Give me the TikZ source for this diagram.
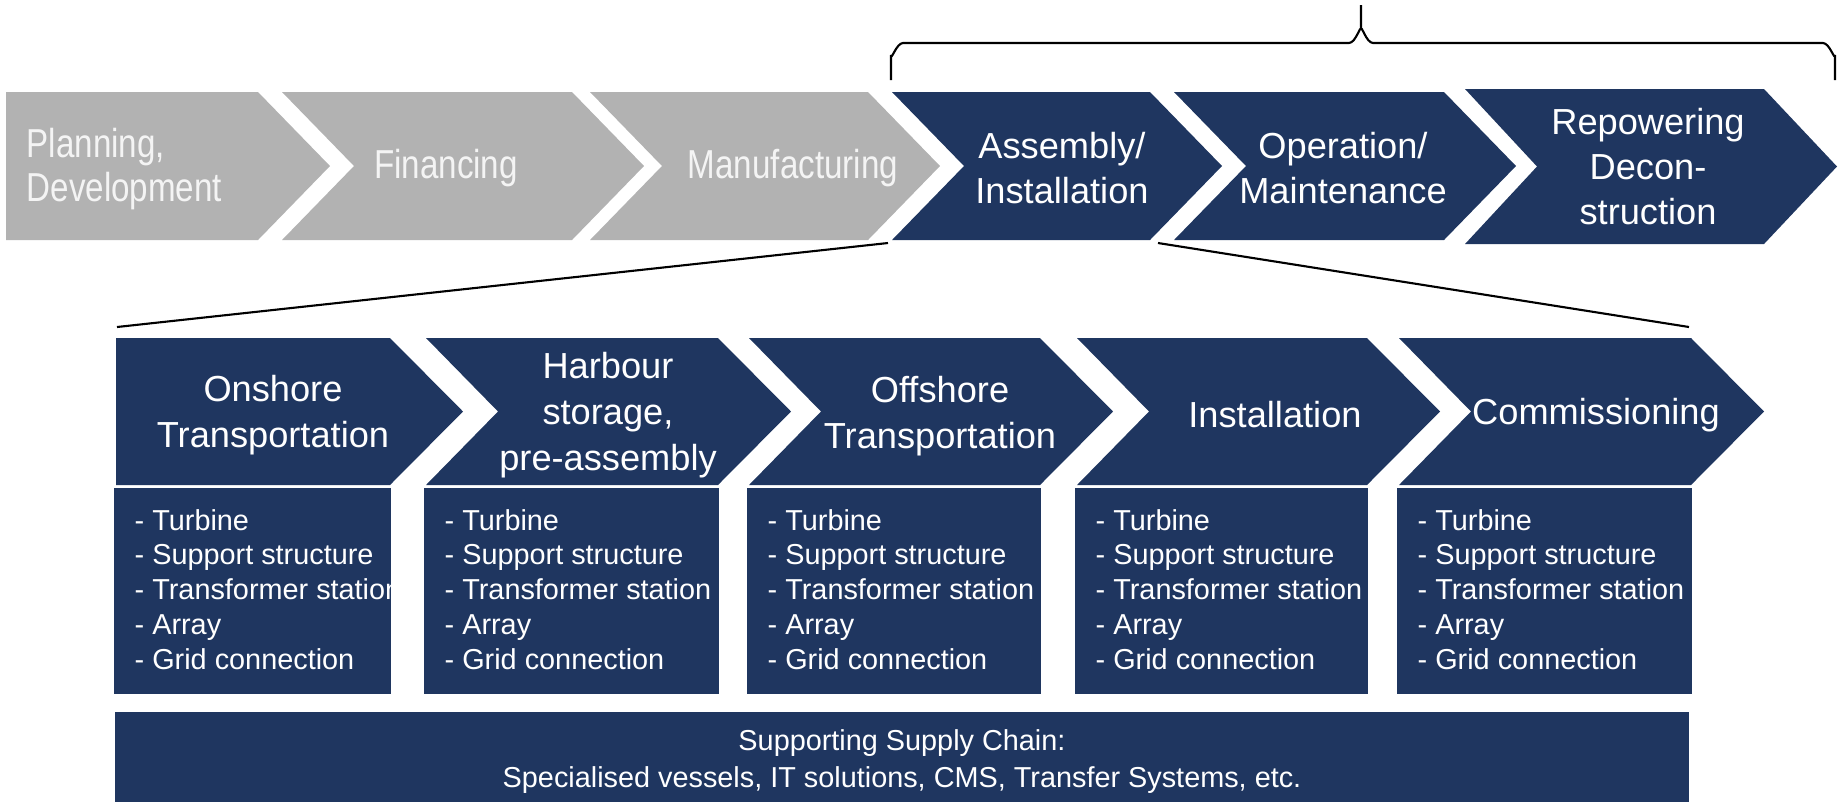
\documentclass[tikz,border=0pt]{standalone}
\usepackage{fontspec}
\setmainfont{Liberation Sans}
\newfontfamily\grayfont[FakeStretch=0.82]{Liberation Sans}
\usetikzlibrary{calc}
\definecolor{SCNavy}{HTML}{1F3660}
\definecolor{SCGray}{HTML}{B2B2B2}
\definecolor{SCPale}{HTML}{F4F4F4}

\begin{document}
\begin{tikzpicture}[
    x=0.01cm, y=-0.01cm,
    grayText/.style={text=SCPale, inner sep=0pt, font=\grayfont\fontsize{11.5}{12.4}\selectfont},
    navyTop/.style={text=white, align=center, inner sep=0pt, font=\fontsize{10.3}{12.8}\selectfont},
    navyTitle/.style={text=white, align=center, inner sep=0pt, font=\fontsize{10.3}{13}\selectfont},
    listItem/.style={text=white, anchor=base west, inner sep=0pt, font=\fontsize{8.2}{10}\selectfont},
    chainText/.style={text=white, align=center, inner sep=0pt, font=\fontsize{8.2}{10.5}\selectfont},
    zoomLine/.style={black, line width=0.6pt},
 ]
\useasboundingbox (0,0) rectangle (1839,802);
\def\yT{92}
\def\yM{166}
\def\yB{240}
\def\lT{338}
\def\lM{411.5}
\def\lB{485}

% value chain, top row
    \foreach \n/\l/\r/\nd/\col in {plan/6/258/0/SCGray, fin/282/572/72/SCGray, man/590/868/72/SCGray, asm/892/1150/72/SCNavy, oper/1174/1444/72/SCNavy} {
        \fill [\col] (\l,\yT) -- (\r,\yT) -- (\r+72,\yM) -- (\r,\yB) -- (\l,\yB) -- (\l+\nd,\yM) -- cycle;
    }
\fill [SCNavy] (1465,89) -- (1764,89) -- (1837,166.5) -- (1764,244) -- (1465,244) -- (1537,166.5) -- cycle;

\node[grayText, anchor=west, align=left] (planT) at (26,169) {Planning,\\Development};
\node[grayText] (finT) at (446,168) {Financing};
\node[grayText] (manT) at (793,168) {Manufacturing};
\node[navyTop] (asmT) at (1062,168) {Assembly/\\Installation};
\node[navyTop] (operT) at (1343,168) {Operation/\\Maintenance};
\node[navyTop] (repT) at (1648,167) {Repowering\\Decon-\\struction};

% brace over the offshore part
\draw [line width=0.6pt] (891,80) -- (891,55) to[out=-90,in=180] (903,43) -- (1349,43) to[out=0,in=90] (1361,30) -- (1361,5)
    -- (1361,30) to[out=90,in=180] (1373,43) -- (1823,43) to[out=0,in=-90] (1835,55) -- (1835,80);

% assembly / installation in detail
    \foreach \n/\l/\r/\nd in {onsh/116/390/0, harb/426/718/72, offs/749/1040/72, inst/1077/1367/72, comm/1399/1691/72} {
        \fill [SCNavy] (\l,\lT) -- (\r,\lT) -- (\r+73,\lM) -- (\r,\lB) -- (\l,\lB) -- (\l+\nd,\lM) -- cycle;
        \fill [SCNavy] (\l-2,488) rectangle (\r+1,694);
        \foreach \t [count=\k] in {Turbine, Support structure, Transformer station, Array, Grid connection} {
            \node[listItem] (\n-item\k) at (\l+18,{530+34.8*(\k-1)}) {- \t};
        }
    }

\node[navyTitle] (onshT) at (273,415) {Onshore\\Transportation};
\node[navyTitle] (harbT) at (608,415) {Harbour\\storage,\\pre-assembly};
\node[navyTitle] (offsT) at (940,416) {Offshore\\Transportation};
\node[navyTitle] (instT) at (1275,415) {Installation};
\node[navyTitle] (commT) at (1596,415) {Commissioning};

\fill [SCNavy] (115,712) rectangle (1689,802);
\node[chainText] (chainT) at (902,761.5) {Supporting Supply Chain:\\Specialised vessels, IT solutions, CMS, Transfer Systems, etc.};

\coordinate (asm-sw) at (888,243);
\coordinate (asm-se) at (1158,243);
\coordinate (zoomL) at (117,327);
\coordinate (zoomR) at (1689,327);
\draw [zoomLine] (asm-sw) -- (zoomL);
\draw [zoomLine] (asm-se) -- (zoomR);

\end{tikzpicture}
\end{document}
